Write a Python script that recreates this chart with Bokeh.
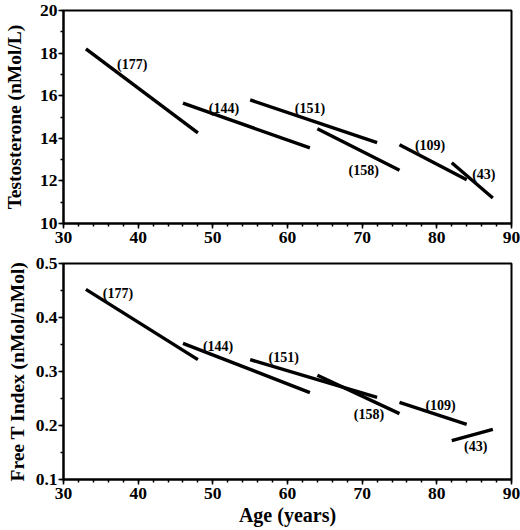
from bokeh.plotting import figure
from bokeh.layouts import column
from bokeh.models import Range1d, ColumnDataSource, SingleIntervalTicker
from bokeh.embed import file_html
from bokeh.resources import INLINE
from bokeh.core.properties import value

# age span of each group (start, end) and group sizes
age_start = [33, 46, 55, 64, 75, 82]
age_end = [48, 63, 72, 75, 84, 87.5]
group_n = ["(177)", "(144)", "(151)", "(158)", "(109)", "(43)"]

# testosterone regression lines
t_start = [18.2, 15.65, 15.8, 14.45, 13.7, 12.85]
t_end = [14.25, 13.55, 13.8, 12.5, 12.05, 11.2]
t_label_x = [39.2, 51.5, 63.0, 70.2, 79.1, 86.3]
t_label_y = [17.45, 15.4, 15.4, 12.5, 13.65, 12.3]

# free T index regression lines
f_start = [0.452, 0.352, 0.322, 0.293, 0.243, 0.172]
f_end = [0.322, 0.261, 0.252, 0.222, 0.202, 0.193]
f_label_x = [37.3, 50.7, 59.5, 70.9, 80.5, 85.2]
f_label_y = [0.445, 0.347, 0.326, 0.220, 0.237, 0.161]

FONT = "Liberation Serif"


def make_panel(y_start, y_end, y_step, ylabel, starts, ends, lx, ly, height, top, bottom,
               label_standoff, xlabel=None):
    """
    one panel with the group regression segments and their n labels
    """
    p = figure(width=520, height=height, x_range=Range1d(30, 90), y_range=Range1d(y_start, y_end),
               output_backend="svg", toolbar_location=None,
               min_border_left=62, min_border_right=9, min_border_top=top, min_border_bottom=bottom)
    p.grid.visible = False
    p.background_fill_color = "white"
    p.outline_line_color = "black"
    p.outline_line_width = 2
    p.outline_line_alpha = 1

    src = ColumnDataSource(dict(x0=age_start, x1=age_end, y0=starts, y1=ends))
    p.segment("x0", "y0", "x1", "y1", source=src, line_color="black", line_width=3.4)

    lab = ColumnDataSource(dict(x=lx, y=ly, t=group_n))
    p.text("x", "y", text="t", source=lab, text_font=value(FONT), text_font_style="bold",
           text_font_size="14px", text_align="center", text_baseline="middle", text_color="black")

    p.xaxis.ticker = SingleIntervalTicker(interval=10, num_minor_ticks=5)
    p.yaxis.ticker = SingleIntervalTicker(interval=y_step, num_minor_ticks=2)
    for ax in (p.xaxis, p.yaxis):
        ax.axis_line_width = 2
        ax.major_tick_line_width = 1.5
        ax.minor_tick_line_width = 1.5
        ax.major_tick_in = 0
        ax.major_tick_out = 5
        ax.minor_tick_in = 0
        ax.minor_tick_out = 3
        ax.major_label_text_font = FONT
        ax.major_label_text_font_style = "bold"
        ax.major_label_text_font_size = "17.5px"
        ax.major_label_text_color = "black"
        ax.axis_label_text_font = FONT
        ax.axis_label_text_font_style = "bold"
        ax.axis_label_text_color = "black"
    p.xaxis.major_label_standoff = 3
    p.yaxis.major_label_standoff = 1
    p.yaxis.axis_label = ylabel
    p.yaxis.axis_label_text_font_size = "19.5px"
    p.yaxis.axis_label_standoff = label_standoff
    if xlabel:
        p.xaxis.axis_label = xlabel
        p.xaxis.axis_label_text_font_size = "20px"
        p.xaxis.axis_label_standoff = 2
    return p


top_panel = make_panel(10, 20, 2, "Testosterone (nMol/L)", t_start, t_end, t_label_x, t_label_y,
                       height=250, top=10, bottom=27, label_standoff=12)
bottom_panel = make_panel(0.1, 0.5, 0.1, "Free T Index (nMol/nMol)", f_start, f_end, f_label_x, f_label_y,
                          height=280, top=13, bottom=51, label_standoff=5, xlabel="Age (years)")
bottom_panel.yaxis.formatter.precision = 1

p = column(top_panel, bottom_panel)
open("out.html", "w").write(file_html(p, INLINE))
